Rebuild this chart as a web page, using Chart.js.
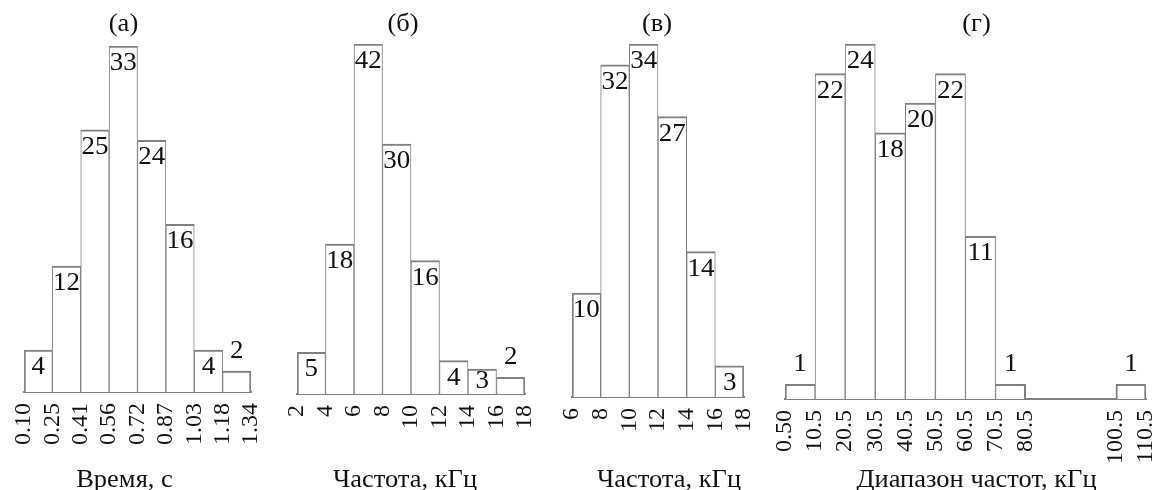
<!DOCTYPE html>
<html>
<head>
<meta charset="utf-8">
<script src="https://cdn.jsdelivr.net/npm/chart.js@4.4.1/dist/chart.umd.min.js"></script>
<style>
    body { margin: 0; background: #fff; }
    #wrap { position: relative; width: 1160px; height: 490px; background: #fff; }
    #wrap canvas { position: absolute; top: 0; }
</style>
</head>
<body>
<div id="wrap">
    <canvas id="chartA" width="255" height="490"></canvas>
    <canvas id="chartB" width="256" height="490"></canvas>
    <canvas id="chartC" width="200" height="490"></canvas>
    <canvas id="chartD" width="389" height="490"></canvas>
</div>
<script>
// (а) duration histogram
const timeEdges = ['0.10', '0.25', '0.41', '0.56', '0.72', '0.87', '1.03', '1.18', '1.34'];
const timeCounts = [4, 12, 25, 33, 24, 16, 4, 2];

// (б) frequency histogram
const freqEdgesB = ['2', '4', '6', '8', '10', '12', '14', '16', '18'];
const freqCountsB = [5, 18, 42, 30, 16, 4, 3, 2];

// (в) frequency histogram
const freqEdgesC = ['6', '8', '10', '12', '14', '16', '18'];
const freqCountsC = [10, 32, 34, 27, 14, 3];

// (г) frequency range histogram (empty slots between 80.5 and 100.5)
const rangeEdges = ['0.50', '10.5', '20.5', '30.5', '40.5', '50.5', '60.5', '70.5', '80.5', '', '', '100.5', '110.5'];
const rangeCounts = [1, 22, 24, 18, 20, 22, 11, 1, null, null, null, 1];

const LINE = '#808080';
const INK = '#111111';
const SERIF = '"Liberation Serif", "Times New Roman", serif';

// layout of each panel on the page
const panels = [
    { id: 'chartA', edges: timeEdges, counts: timeCounts, letter: '(а)', axisTitle: 'Время, с',
      left: 10, top: 46, baseline: 392, letterDx: -14, titleDx: -13 },
    { id: 'chartB', edges: freqEdgesB, counts: freqCountsB, letter: '(б)', axisTitle: 'Частота, кГц',
      left: 283, top: 44, baseline: 394, letterDx: -8, titleDx: -6 },
    { id: 'chartC', edges: freqEdgesC, counts: freqCountsC, letter: '(в)', axisTitle: 'Частота, кГц',
      left: 558, top: 44, baseline: 397, letterDx: -1, titleDx: 11 },
    { id: 'chartD', edges: rangeEdges, counts: rangeCounts, letter: '(г)', axisTitle: 'Диапазон частот, кГц',
      left: 771, top: 44, baseline: 399, letterDx: 11, titleDx: 11 }
];

// text drawn a bit wider, like the original typesetting
function drawWide(ctx, text, x, y, sx) {
    ctx.save();
    ctx.translate(x, y);
    ctx.scale(sx, 1);
    ctx.fillText(text, 0, 0);
    ctx.restore();
}

// count above each bar (inside for tall bars)
const valueLabels = {
    id: 'valueLabels',
    afterDatasetsDraw(chart) {
        const ctx = chart.ctx;
        const meta = chart.getDatasetMeta(0);
        const data = chart.data.datasets[0].data;
        ctx.save();
        ctx.fillStyle = INK;
        ctx.textAlign = 'center';
        ctx.textBaseline = 'middle';
        ctx.font = '25px ' + SERIF;
        meta.data.forEach((bar, i) => {
            const h = bar.base - bar.y;
            const cy = h < 22 ? bar.y - 20 : bar.y + Math.min(17.5, h - 13);
            drawWide(ctx, String(data[i].y), bar.x, cy, 1.08);
        });
        ctx.restore();
    }
};

// panel letter on top, axis caption at bottom
const captions = {
    id: 'captions',
    afterDraw(chart, args, opts) {
        const ctx = chart.ctx;
        const area = chart.chartArea;
        const cx = (area.left + area.right) / 2;
        ctx.save();
        ctx.fillStyle = INK;
        ctx.textAlign = 'center';
        ctx.textBaseline = 'alphabetic';
        ctx.font = '25px ' + SERIF;
        drawWide(ctx, opts.letter, cx + opts.letterDx, 31, 1.06);
        drawWide(ctx, opts.axisTitle, cx + opts.titleDx, 487, 1.06);
        ctx.restore();
    }
};

function makeHistogram(p) {
    const points = p.counts.flatMap((v, i) => v == null ? [] : [{ x: i + 0.5, y: v }]);
    const filled = new Set(points.map(pt => pt.x));
    const canvas = document.getElementById(p.id);
    canvas.style.left = p.left + 'px';

    return new Chart(canvas.getContext('2d'), {
        type: 'bar',
        data: {
            datasets: [{
                data: points,
                backgroundColor: '#ffffff',
                borderColor: LINE,
                borderSkipped: false,
                borderWidth: (c) => {
                    const x = c.raw ? c.raw.x : 0;
                    return {
                        top: 2,
                        bottom: 0,
                        left: filled.has(x - 1) ? 1 : 2,
                        right: filled.has(x + 1) ? 1 : 2
                    };
                },
                categoryPercentage: 1,
                barPercentage: 1
            }]
        },
        options: {
            responsive: false,
            animation: false,
            layout: { padding: { top: p.top, left: 14, right: 14, bottom: 0 } },
            plugins: {
                legend: { display: false },
                tooltip: { enabled: false },
                captions: { letter: p.letter, axisTitle: p.axisTitle, letterDx: p.letterDx, titleDx: p.titleDx }
            },
            scales: {
                x: {
                    type: 'linear',
                    min: 0,
                    max: p.edges.length - 1,
                    offset: false,
                    grid: { display: false, drawTicks: false, offset: false },
                    border: { display: true, color: LINE, width: 2 },
                    ticks: {
                        stepSize: 1,
                        autoSkip: false,
                        minRotation: 90,
                        maxRotation: 90,
                        padding: 11,
                        color: INK,
                        font: { family: SERIF, size: 24 },
                        callback: (value) => p.edges[value] ?? ''
                    },
                    afterFit(scale) {
                        scale.height = 490 - p.baseline;
                        scale.paddingLeft = 0;
                        scale.paddingRight = 0;
                    }
                },
                y: {
                    display: false,
                    min: 0,
                    max: Math.max(...p.counts.filter(v => v != null))
                }
            }
        },
        plugins: [valueLabels, captions]
    });
}

panels.forEach(makeHistogram);
</script>
</body>
</html>
